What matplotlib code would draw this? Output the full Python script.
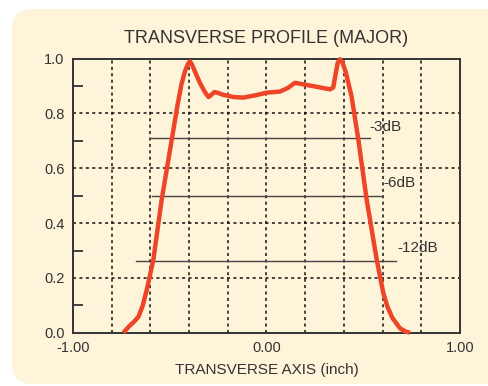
import matplotlib
matplotlib.use('Agg')
import matplotlib.pyplot as plt
from matplotlib.patches import FancyBboxPatch
from matplotlib.ticker import MultipleLocator, FixedLocator

# profile trace
prof_x = [-0.740, -0.712, -0.685, -0.662, -0.640, -0.619, -0.585, -0.542, -0.490,
          -0.460, -0.440, -0.421, -0.405, -0.395, -0.385, -0.365, -0.343, -0.320,
          -0.300, -0.285, -0.270, -0.255, -0.223, -0.170, -0.120, -0.060, 0.001,
          0.070, 0.110, 0.147, 0.208, 0.270, 0.328, 0.345, 0.355, 0.368, 0.380,
          0.393, 0.410, 0.440, 0.475, 0.518, 0.570, 0.604, 0.625, 0.650, 0.690,
          0.720, 0.742]
prof_y = [0.000, 0.022, 0.040, 0.058, 0.098, 0.156, 0.265, 0.484, 0.703,
          0.830, 0.905, 0.955, 0.982, 0.990, 0.978, 0.945, 0.910, 0.880,
          0.860, 0.868, 0.878, 0.876, 0.868, 0.860, 0.858, 0.866, 0.876,
          0.880, 0.893, 0.912, 0.904, 0.896, 0.888, 0.895, 0.935, 0.985, 0.998,
          0.985, 0.950, 0.861, 0.703, 0.484, 0.265, 0.144, 0.095, 0.055, 0.016,
          0.004, 0.000]

# dB width markers: level, start, end, label
db_labels = ['-3dB', '-6dB', '-12dB']
db_level = [0.709, 0.499, 0.262]
db_start = [-0.599, -0.593, -0.676]
db_end = [0.535, 0.595, 0.669]
db_text_x = [0.530, 0.604, 0.676]
db_text_y = [0.752, 0.547, 0.308]

xticks = [-1.0, 0.0, 1.0]
xticklabels = ['-1.00', '0.00', '1.00']

cream = '#fef4da'
ink = '#333333'
red = '#ee4427'

plt.rcParams['font.family'] = ['Liberation Sans', 'DejaVu Sans']

fig = plt.figure(figsize=(4.88, 3.86), dpi=100)
fig.patch.set_facecolor('white')
panel = FancyBboxPatch((0.12, 0.02), 5.0, 3.75, boxstyle='round,pad=0,rounding_size=0.2',
                       transform=fig.dpi_scale_trans, facecolor=cream, edgecolor='none',
                       zorder=-10)
fig.patches.append(panel)

ax = fig.add_axes([0.1496, 0.138, 0.7930, 0.710])
ax.set_facecolor(cream)

ax.set_xlim(-1, 1)
ax.set_ylim(0, 1)

# dotted grid
for gx in [-0.8, -0.6, -0.4, -0.2, 0.0, 0.2, 0.4, 0.6, 0.8]:
    ax.axvline(gx, color='#111111', lw=1.1, ls=(0, (2, 2.2)), zorder=1)
for gy in [0.2, 0.4, 0.6, 0.8]:
    ax.axhline(gy, color='#111111', lw=1.1, ls=(0, (2, 2.2)), zorder=1)

for lvl, x0, x1, lab, tx, ty in zip(db_level, db_start, db_end, db_labels, db_text_x, db_text_y):
    ax.plot([x0, x1], [lvl, lvl], color='#444444', lw=1.0, zorder=2)
    ax.text(tx, ty, lab, fontsize=11, color=ink, ha='left', va='center', zorder=2)

ax.plot(prof_x, prof_y, color=red, lw=3.2, solid_capstyle='butt',
        solid_joinstyle='round', zorder=3, clip_on=False)

ax.xaxis.set_major_locator(FixedLocator(xticks))
ax.set_xticklabels(xticklabels)
ax.yaxis.set_major_locator(MultipleLocator(0.2))
ax.yaxis.set_minor_locator(FixedLocator([0.1, 0.3, 0.5, 0.7, 0.9]))
ax.yaxis.set_major_formatter(plt.FormatStrFormatter('%.1f'))
ax.tick_params(axis='both', which='major', length=0, labelsize=10.5, labelcolor=ink, pad=6)
ax.tick_params(axis='y', which='minor', direction='in', length=7.5, width=1.3, color=ink)

for s in ax.spines.values():
    s.set_color(ink)
    s.set_linewidth(1.4)

ax.set_title('TRANSVERSE PROFILE (MAJOR)', fontsize=13, color=ink, pad=11)
ax.set_xlabel('TRANSVERSE AXIS (inch)', fontsize=11, color=ink, labelpad=6)

fig.savefig('out.png', dpi=100, facecolor='white')
